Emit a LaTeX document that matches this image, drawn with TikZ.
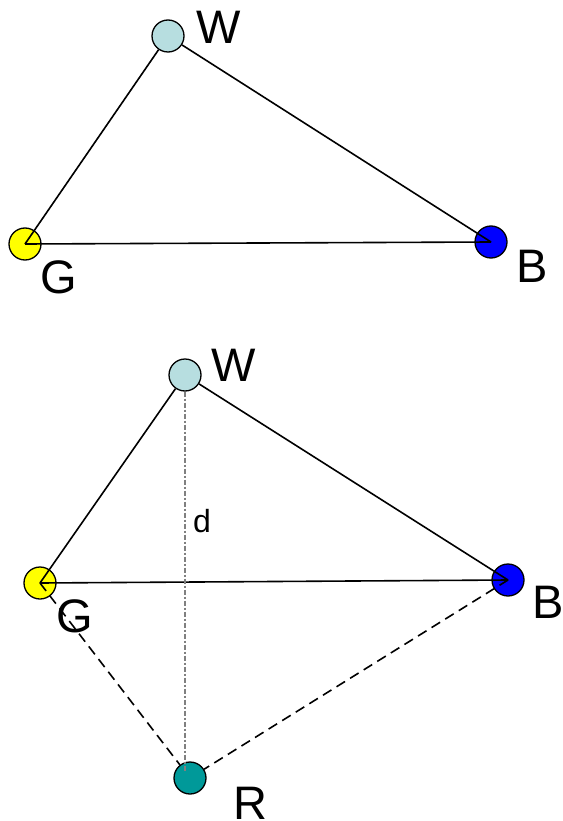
\documentclass[tikz,border=0pt]{standalone}
\usepackage{fontspec}
\setmainfont{Liberation Sans}
\usetikzlibrary{positioning}
\definecolor{wcol}{HTML}{B7DEE0}
\definecolor{gcol}{HTML}{FFFF00}
\definecolor{bcol}{HTML}{0000FF}
\definecolor{rcol}{HTML}{009999}
\definecolor{dgrey}{HTML}{808080}
\tikzset{
  pt/.style={circle, draw=black, fill=#1, line width=1.3pt,
             minimum size=32pt, inner sep=0pt},
  edge/.style={line width=1.6pt, draw=black},
  dedge/.style={edge, dash pattern=on 10pt off 6pt},
  hgt/.style={line width=1.4pt, draw=dgrey,
              dash pattern=on 5pt off 2pt on 2pt off 2pt},
  big/.style={font=\fontsize{47}{50}\selectfont, inner sep=0pt},
  small/.style={font=\fontsize{32}{36}\selectfont, inner sep=0pt},
}

\begin{document}
\begin{tikzpicture}[x=1pt, y=-1pt]
  \useasboundingbox (0,0) rectangle (562,821);

  % upper triangle
  \node[pt=wcol] (W1) at (168,36) {};
  \node[pt=gcol] (G1) at (25,244) {};
  \node[pt=bcol] (B1) at (491,242) {};

  \draw[edge] (G1.center) -- (W1);
  \draw[edge] (W1) -- (B1.center);
  \draw[edge] (G1.center) -- (B1.center);

  \node[big] (W1lbl) at (219,27) {W};
  \node[big] (G1lbl) at (59,277) {G};
  \node[big] (B1lbl) at (532,266) {B};

  % lower triangle with R
  \node[pt=wcol] (W2) at (185,375) {};
  \node[pt=gcol] (G2) at (40,583) {};
  \node[pt=bcol] (B2) at (508,580) {};
  \node[pt=rcol] (R2) at (190,778) {};

  \draw[edge] (G2.center) -- (W2);
  \draw[edge] (W2) -- (B2.center);
  \draw[edge] (G2.center) -- (B2.center);
  \draw[dedge] (G2.center) -- (R2);
  \draw[dedge] (B2.center) -- (R2);
  \draw[hgt] (W2) -- ([yshift=-11pt]W2 |- R2.north);

  \node[small] (dlbl) at (202,521) {d};
  \node[big] (W2lbl) at (234,365) {W};
  \node[big] (G2lbl) at (75,616) {G};
  \node[big] (B2lbl) at (548,602) {B};
  \node[big] (R2lbl) at (250,803) {R};
\end{tikzpicture}
\end{document}
